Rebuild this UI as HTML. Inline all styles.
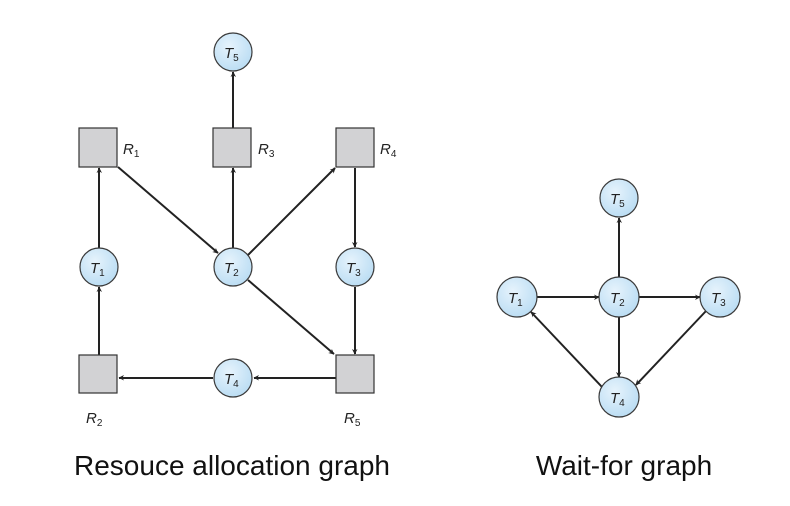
<!DOCTYPE html>
<html><head><meta charset="utf-8"><style>
body{margin:0;background:#fff;}
svg{display:block;}
.c{fill:url(#g);stroke:#3a3a3a;stroke-width:1.2}
.s{fill:#d2d2d4;stroke:#333;stroke-width:1.2}
.l{stroke:#222;stroke-width:2;fill:none;marker-end:url(#a)}
.t{font-family:"Liberation Sans",sans-serif;font-style:italic;font-size:15px;fill:#222}
.sub{font-size:10px;font-style:normal}
.cap{font-family:"Liberation Sans","Noto Sans CJK KR",sans-serif;font-size:28px;fill:#111}
</style></head><body>
<svg width="790" height="506" viewBox="0 0 790 506">
<defs>
<radialGradient id="g" cx="40%" cy="35%" r="70%"><stop offset="0" stop-color="#e6f3fc"/><stop offset="1" stop-color="#b9dcf3"/></radialGradient>
<marker id="a" viewBox="0 0 10 10" refX="10" refY="5" markerWidth="5" markerHeight="5" orient="auto" markerUnits="userSpaceOnUse" style="overflow:visible"><path d="M0,0 L10,5 L0,10 L3,5z" fill="#222" transform="scale(1.1)"/></marker>
</defs>
<!-- left edges -->
<line class="l" x1="233" y1="128" x2="233" y2="72"/>
<line class="l" x1="99" y1="248" x2="99" y2="168"/>
<line class="l" x1="99" y1="355" x2="99" y2="287"/>
<line class="l" x1="118" y1="167" x2="218" y2="253"/>
<line class="l" x1="233" y1="248" x2="233" y2="168"/>
<line class="l" x1="248" y1="255" x2="335" y2="168"/>
<line class="l" x1="355" y1="168" x2="355" y2="247"/>
<line class="l" x1="355" y1="287" x2="355" y2="354"/>
<line class="l" x1="248" y1="280" x2="334" y2="354"/>
<line class="l" x1="336" y1="378" x2="254" y2="378"/>
<line class="l" x1="213" y1="378" x2="119" y2="378"/>
<!-- left nodes -->
<rect class="s" x="79" y="128" width="38" height="39"/>
<rect class="s" x="213" y="128" width="38" height="39"/>
<rect class="s" x="336" y="128" width="38" height="39"/>
<rect class="s" x="79" y="355" width="38" height="38"/>
<rect class="s" x="336" y="355" width="38" height="38"/>
<circle class="c" cx="233" cy="52" r="19"/>
<circle class="c" cx="99" cy="267" r="19"/>
<circle class="c" cx="233" cy="267" r="19"/>
<circle class="c" cx="355" cy="267" r="19"/>
<circle class="c" cx="233" cy="378" r="19"/>
<text class="t" x="224" y="58">T<tspan class="sub" dy="3">5</tspan></text>
<text class="t" x="90" y="273">T<tspan class="sub" dy="3">1</tspan></text>
<text class="t" x="224" y="273">T<tspan class="sub" dy="3">2</tspan></text>
<text class="t" x="346" y="273">T<tspan class="sub" dy="3">3</tspan></text>
<text class="t" x="224" y="384">T<tspan class="sub" dy="3">4</tspan></text>
<text class="t" x="123" y="154">R<tspan class="sub" dy="3">1</tspan></text>
<text class="t" x="258" y="154">R<tspan class="sub" dy="3">3</tspan></text>
<text class="t" x="380" y="154">R<tspan class="sub" dy="3">4</tspan></text>
<text class="t" x="86" y="423">R<tspan class="sub" dy="3">2</tspan></text>
<text class="t" x="344" y="423">R<tspan class="sub" dy="3">5</tspan></text>
<!-- right edges -->
<line class="l" x1="619" y1="278" x2="619" y2="218"/>
<line class="l" x1="537" y1="297" x2="599" y2="297"/>
<line class="l" x1="639" y1="297" x2="700" y2="297"/>
<line class="l" x1="619" y1="317" x2="619" y2="377"/>
<line class="l" x1="706" y1="311" x2="636" y2="385"/>
<line class="l" x1="602" y1="387" x2="531" y2="312"/>
<circle class="c" cx="619" cy="198" r="19"/>
<circle class="c" cx="517" cy="297" r="20"/>
<circle class="c" cx="619" cy="297" r="20"/>
<circle class="c" cx="720" cy="297" r="20"/>
<circle class="c" cx="619" cy="397" r="20"/>
<text class="t" x="610" y="204">T<tspan class="sub" dy="3">5</tspan></text>
<text class="t" x="508" y="303">T<tspan class="sub" dy="3">1</tspan></text>
<text class="t" x="610" y="303">T<tspan class="sub" dy="3">2</tspan></text>
<text class="t" x="711" y="303">T<tspan class="sub" dy="3">3</tspan></text>
<text class="t" x="610" y="403">T<tspan class="sub" dy="3">4</tspan></text>
<text class="cap" x="232" y="475" text-anchor="middle">Resouce allocation graph</text>
<text class="cap" x="624" y="475" text-anchor="middle">Wait-for graph</text>
</svg>
</body></html>
